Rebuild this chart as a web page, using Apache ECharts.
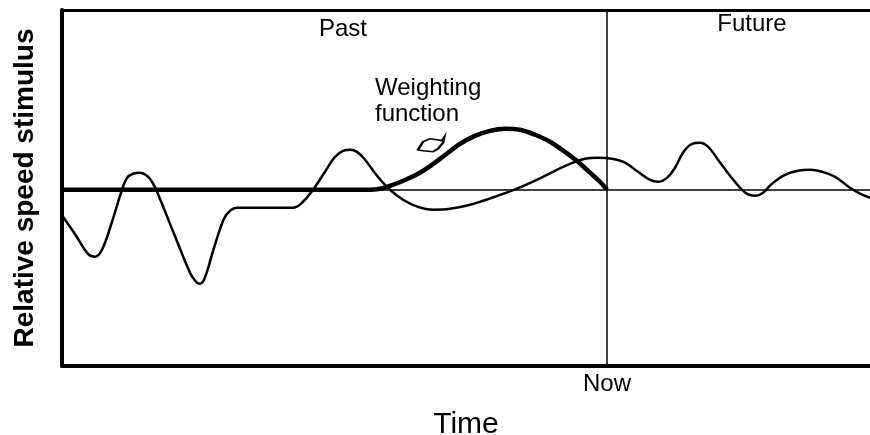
<!DOCTYPE html>
<html>
<head>
<meta charset="utf-8">
<script src="https://cdn.jsdelivr.net/npm/echarts@6/dist/echarts.min.js"></script>
<style>
html,body{margin:0;padding:0;background:#fff;}
#chart{width:870px;height:435px;}
</style>
</head>
<body>
<div id="chart"></div>
<script>
// Time relative to "Now" (arbitrary units), and relative speed stimulus
const stimulusTime = [-54.4,-53.1,-51.9,-51.2,-50.5,-49.5,-48.5,-48.0,-47.4,-46.7,-46.0,-45.5,-45.0,-43.3,-41.7,-41.2,-40.8,-40.3,-39.3,-38.3,-37.7,-37.0,-34.7,-31.4,-30.5,-29.4,-28.2,-27.2,-26.4,-25.7,-25.0,-24.2,-23.0,-21.7,-20.4,-18.9,-17.4,-15.7,-13.7,-11.2,-9.0,-7.2,-5.4,-3.7,-2.2,-0.9,0.5,1.8,3.1,4.3,5.1,6.0,6.8,7.6,8.5,9.3,10.1,11.1,12.3,13.5,14.2,14.9,15.6,16.5,17.8,19.1,20.3,21.5,22.8,24.3,25.3,26.3];
const stimulusValue = [-1.52,-2.58,-3.6,-3.76,-3.37,-1.8,0,0.67,0.9,0.96,0.79,0.45,-0.11,-2.47,-4.66,-5.1,-5.28,-5.06,-3.26,-1.63,-1.18,-1.01,-1.01,-1.01,-0.73,0,1.01,1.85,2.19,2.25,2.13,1.69,0.79,0,-0.56,-0.96,-1.12,-1.07,-0.84,-0.39,0.06,0.51,1.01,1.46,1.74,1.8,1.74,1.52,1.01,0.56,0.45,0.67,1.24,2.08,2.58,2.64,2.42,1.69,0.79,0,-0.28,-0.34,-0.17,0.34,0.84,1.07,1.12,1.01,0.73,0.11,-0.22,-0.45];
const weightTime = [-54.5,-30,-23.7,-22.7,-21.7,-20.2,-18.7,-17.5,-16.2,-14.7,-13.2,-11.7,-10.2,-8.7,-7.2,-5.7,-4.2,-2.9,-1.7,-0.7,0];
const weightValue = [0,0,0,0.06,0.22,0.55,0.96,1.40,1.95,2.58,3.03,3.31,3.43,3.37,3.09,2.70,2.13,1.57,0.96,0.45,0];
const nowLabel = 'Now';
const xTitle = 'Time';
const yTitle = 'Relative speed stimulus';
const annotTexts = ['Past','Future','Weighting\nfunction'];
const annotTime = [-26.4, 14.5, -23.2];
const annotValue = [8.99, 9.27, 4.94];
const arrowTime = -17.6, arrowValue = 2.53;

const FONT = '"Liberation Sans", Arial, sans-serif';
const chart = echarts.init(document.getElementById('chart'), null, {renderer:'canvas'});
const zip = (a,b) => a.map((x,i)=>[x,b[i]]);

chart.setOption({
  animation:false,
  backgroundColor:'#fff',
  grid:{left:62,right:0,top:10,bottom:69,containLabel:false,outerBoundsMode:'none'},
  xAxis:[{
    type:'value', min:-54.5, max:26.3, position:'bottom',
    axisLine:{show:true,onZero:false,lineStyle:{color:'#000',width:4}},
    axisTick:{show:false},
    splitLine:{show:false},
    axisLabel:{show:true,customValues:[0],formatter:()=>nowLabel,color:'#000',fontSize:24,fontFamily:FONT,margin:6},
    name:xTitle, nameLocation:'middle', nameGap:44,
    nameTextStyle:{color:'#000',fontSize:30,fontFamily:FONT}
  },{
    type:'value', min:-54.5, max:26.3, position:'top',
    axisLine:{show:true,onZero:false,lineStyle:{color:'#000',width:3}},
    axisTick:{show:false}, axisLabel:{show:false}, splitLine:{show:false}
  }],
  yAxis:{
    type:'value', min:-9.9, max:10.1,
    axisLine:{show:true,onZero:false,lineStyle:{color:'#000',width:4}},
    axisTick:{show:false}, axisLabel:{show:false}, splitLine:{show:false},
    name:yTitle, nameLocation:'middle', nameGap:23, nameRotate:90,
    nameTextStyle:{color:'#000',fontSize:28,fontWeight:'bold',fontFamily:FONT}
  },
  series:[{
    type:'line', data:zip(stimulusTime,stimulusValue), smooth:0.4, symbol:'none',
    lineStyle:{color:'#000',width:2.5},
    markLine:{
      silent:true, symbol:['none','none'], label:{show:false},
      lineStyle:{color:'#000',width:1.5,type:'solid'},
      data:[{yAxis:0},{xAxis:0}]
    },
    markPoint:{
      silent:true,
      data:annotTexts.map((t,i)=>({
        coord:[annotTime[i],annotValue[i]], symbol:'circle', symbolSize:0,
        label:{show:true,formatter:t,color:'#000',fontSize:24,fontFamily:FONT,lineHeight:26,
               position:i===2?'right':'inside',align:i===2?'left':'center',distance:0}
      })).concat([{
        coord:[arrowTime,arrowValue], symbol:'path://M0 12 L5 4 L12 1 L19 2 L24 3 L26 0 L25 5 L20 11 L15 14 L5 13 Z',
        symbolSize:[26,14],
        itemStyle:{color:'#fff',borderColor:'#000',borderWidth:2}, label:{show:false}
      }])
    }
  },{
    type:'line', data:zip(weightTime,weightValue), smooth:0.35, symbol:'none',
    lineStyle:{color:'#000',width:4.5}
  }]
});
</script>
</body>
</html>
